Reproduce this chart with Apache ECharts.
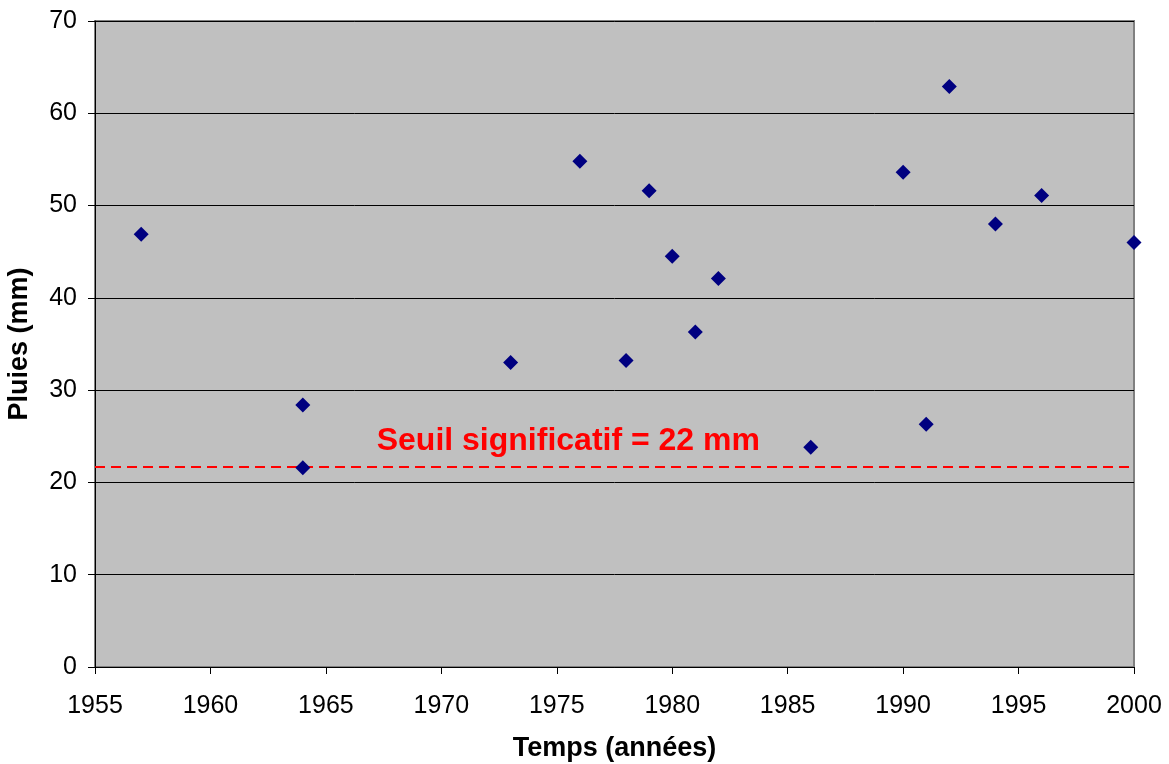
<!DOCTYPE html>
<html>
<head>
<meta charset="utf-8">
<script src="https://cdn.jsdelivr.net/npm/echarts@6/dist/echarts.min.js"></script>
<style>html,body{margin:0;padding:0;background:#fff;}#c{width:1169px;height:764px;}</style>
</head>
<body>
<div id="c"></div>
<script>
const years = [1957, 1964, 1964, 1973, 1976, 1978, 1979, 1980, 1981, 1982, 1986, 1990, 1991, 1992, 1994, 1996, 2000];
const rain  = [46.9, 28.4, 21.6, 33.0, 54.8, 33.2, 51.6, 44.5, 36.3, 42.1, 23.8, 53.6, 26.3, 62.9, 48.0, 51.1, 46.0];
const threshold = 21.7;
const thresholdLabel = 'Seuil significatif = 22 mm';
const labelPos = [1975.5, 24.5];
const xTitle = 'Temps (années)';
const yTitle = 'Pluies (mm)';

const chart = echarts.init(document.getElementById('c'), null, {renderer: 'canvas'});
const font = 'Liberation Sans, Arial, sans-serif';
chart.setOption({
  animation: false,
  grid: {left: 95, right: 35, top: 21, bottom: 97, outerBoundsMode: 'none', containLabel: false, show: true, backgroundColor: '#c0c0c0', borderColor: '#808080', borderWidth: 2},
  xAxis: {
    type: 'value', min: 1955, max: 2000, interval: 5,
    name: xTitle, nameLocation: 'middle', nameGap: 68,
    nameTextStyle: {fontFamily: font, fontSize: 27, fontWeight: 'bold', color: '#000'},
    axisLine: {show: true, onZero: false, lineStyle: {color: '#000', width: 1}},
    axisTick: {show: true, length: 7, lineStyle: {color: '#000'}},
    axisLabel: {fontFamily: font, fontSize: 25, color: '#000', margin: 27, formatter: v => String(v)},
    splitLine: {show: false}
  },
  yAxis: {
    type: 'value', min: 0, max: 70, interval: 10,
    name: yTitle, nameLocation: 'middle', nameGap: 62, nameRotate: 90,
    nameTextStyle: {fontFamily: font, fontSize: 27, fontWeight: 'bold', color: '#000'},
    axisLine: {show: true, lineStyle: {color: '#000', width: 1}},
    axisTick: {show: true, length: 7, lineStyle: {color: '#000'}},
    axisLabel: {fontFamily: font, fontSize: 25, color: '#000', margin: 18},
    splitLine: {show: true, lineStyle: {color: '#000', width: 1}}
  },
  series: [{
    type: 'scatter',
    data: years.map((y, i) => [y, rain[i]]),
    symbol: 'diamond', symbolSize: [15, 15],
    itemStyle: {color: '#000080', opacity: 1},
    z: 5,
    markLine: {
      silent: true, symbol: ['none', 'none'],
      lineStyle: {color: '#ff0000', type: [10, 6], width: 2},
      label: {show: false},
      data: [{yAxis: threshold}]
    },
    markPoint: {
      silent: true, symbol: 'circle', symbolSize: 0,
      label: {show: true, position: 'inside', formatter: thresholdLabel, fontFamily: font, fontSize: 32, fontWeight: 'bold', color: '#ff0000'},
      data: [{coord: labelPos}]
    }
  }]
});
</script>
</body>
</html>
